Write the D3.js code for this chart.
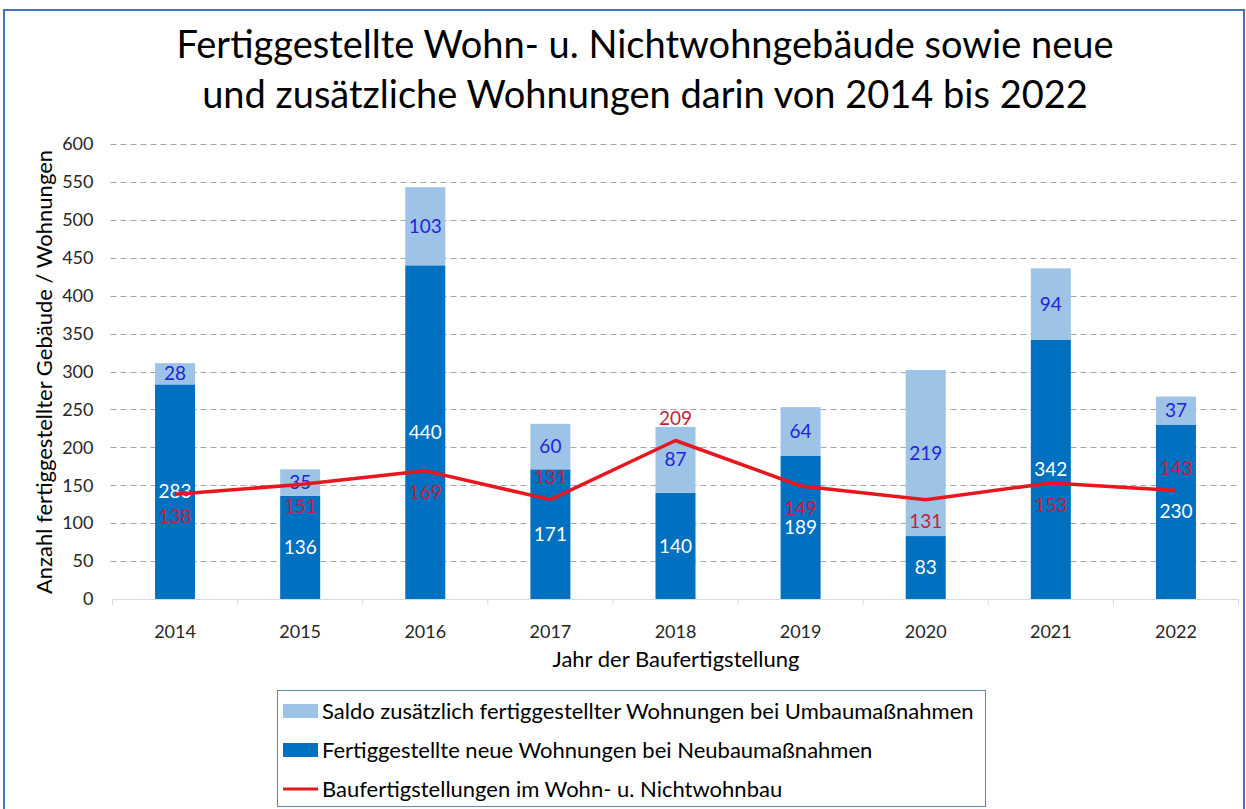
<!DOCTYPE html>
<html><head><meta charset="utf-8">
<script src="https://cdn.jsdelivr.net/npm/d3@7"></script>
<style>
html,body{margin:0;padding:0;background:#fff;}
svg{display:block;font-family:Lato,"Noto Sans",sans-serif;}
</style></head>
<body>
<svg id="chart" width="1246" height="809"></svg>
<script>
const years = ["2014","2015","2016","2017","2018","2019","2020","2021","2022"];
const neubau = [283,136,440,171,140,189,83,342,230];
const umbau = [28,35,103,60,87,64,219,94,37];
const gebaeude = [138,151,169,131,209,149,131,153,143];
const yTicks = [0,50,100,150,200,250,300,350,400,450,500,550,600];
const lineLabelSide = ["below","below","below","above","above","below","below","below","above"];

const titleLines = ["Fertiggestellte Wohn- u. Nichtwohngebäude sowie neue","und zusätzliche Wohnungen darin von 2014 bis 2022"];
const yTitle = "Anzahl fertiggestellter Gebäude / Wohnungen";
const xTitle = "Jahr der Baufertigstellung";
const legendItems = [
  {label:"Saldo zusätzlich fertiggestellter Wohnungen bei Umbaumaßnahmen", type:"rect", color:"#9DC3E6"},
  {label:"Fertiggestellte neue Wohnungen bei Neubaumaßnahmen", type:"rect", color:"#0070C0"},
  {label:"Baufertigstellungen im Wohn- u. Nichtwohnbau", type:"line", color:"#E8161E"}
];

const svg = d3.select("#chart");
// outer frame
svg.append("rect").attr("x",4).attr("y",10).attr("width",1240).attr("height",820)
  .attr("fill","#fff").attr("stroke","#4472C4").attr("stroke-width",2);

const L=112.5, R=1238.5, T=144, B=599;
const x = d3.scaleBand().domain(years).range([L,R]).paddingInner(0).paddingOuter(0);
const y = d3.scaleLinear().domain([0,600]).range([B,T]);
const barW = 40;

// title
svg.append("g").selectAll("text").data(titleLines).join("text")
  .attr("x",645).attr("y",(d,i)=>58+i*50).attr("text-anchor","middle")
  .attr("font-size",38).attr("fill","#000").text(d=>d);

// gridlines
const grid = svg.append("g");
grid.selectAll("line").data(yTicks.filter(d=>d>0)).join("line")
  .attr("x1",L-2).attr("x2",R).attr("y1",d=>Math.round(y(d))+0.5).attr("y2",d=>Math.round(y(d))+0.5)
  .attr("stroke","#A6A6A6").attr("stroke-width",1).attr("stroke-dasharray","6,4");

// y axis labels
const yAxis = svg.append("g").attr("transform",`translate(${L-19},0)`)
  .call(d3.axisLeft(y).tickValues(yTicks).tickSize(0).tickPadding(0));
yAxis.select(".domain").remove();
yAxis.selectAll("text").attr("font-size",18).attr("fill","#262626").attr("font-family","Lato,'Noto Sans',sans-serif");

// x axis
const xAxis = svg.append("g").attr("transform",`translate(0,${B})`)
  .call(d3.axisBottom(x).tickSize(0).tickPadding(26));
xAxis.select(".domain").attr("stroke","#D9D9D9");
xAxis.selectAll("text").attr("font-size",18).attr("fill","#262626").attr("font-family","Lato,'Noto Sans',sans-serif");
// category boundary ticks
svg.append("g").selectAll("line").data(d3.range(years.length+1)).join("line")
  .attr("x1",i=>L+i*x.step()).attr("x2",i=>L+i*x.step())
  .attr("y1",B).attr("y2",B+6).attr("stroke","#D9D9D9");

// bars
const bars = svg.append("g");
bars.selectAll("rect.neu").data(years).join("rect").attr("class","neu")
  .attr("x",d=>x(d)+x.bandwidth()/2-barW/2).attr("width",barW)
  .attr("y",(d,i)=>y(neubau[i])).attr("height",(d,i)=>y(0)-y(neubau[i]))
  .attr("fill","#0070C0");
bars.selectAll("rect.um").data(years).join("rect").attr("class","um")
  .attr("x",d=>x(d)+x.bandwidth()/2-barW/2).attr("width",barW)
  .attr("y",(d,i)=>y(neubau[i]+umbau[i])).attr("height",(d,i)=>y(neubau[i])-y(neubau[i]+umbau[i]))
  .attr("fill","#9DC3E6");

// bar labels
bars.selectAll("text.neu").data(years).join("text").attr("class","neu")
  .attr("x",d=>x(d)+x.bandwidth()/2).attr("y",(d,i)=>y(neubau[i]/2))
  .attr("dy","0.35em").attr("text-anchor","middle").attr("font-size",19).attr("fill","#fff")
  .text((d,i)=>neubau[i]);
bars.selectAll("text.um").data(years).join("text").attr("class","um")
  .attr("x",d=>x(d)+x.bandwidth()/2).attr("y",(d,i)=>y(neubau[i]+umbau[i]/2))
  .attr("dy","0.35em").attr("text-anchor","middle").attr("font-size",19).attr("fill","#2323D6")
  .text((d,i)=>umbau[i]);

// line
const line = d3.line().x((d,i)=>x(years[i])+x.bandwidth()/2).y(d=>y(d));
svg.append("path").datum(gebaeude).attr("d",line).attr("fill","none")
  .attr("stroke","#E8161E").attr("stroke-width",3.5).attr("stroke-linejoin","round");
svg.append("g").selectAll("text").data(gebaeude).join("text")
  .attr("x",(d,i)=>x(years[i])+x.bandwidth()/2)
  .attr("y",(d,i)=>y(d)+(lineLabelSide[i]==="below"?22:-22))
  .attr("dy","0.35em").attr("text-anchor","middle").attr("font-size",19).attr("fill","#C4203C")
  .text(d=>d);

// axis titles
svg.append("text").attr("transform","translate(52,372) rotate(-90)").attr("text-anchor","middle")
  .attr("font-size",22).attr("fill","#000").text(yTitle);
svg.append("text").attr("x",676).attr("y",667).attr("text-anchor","middle")
  .attr("font-size",22).attr("fill","#000").text(xTitle);

// legend
const lg = svg.append("g");
lg.append("rect").attr("x",277.5).attr("y",690.5).attr("width",708).attr("height",116)
  .attr("fill","#fff").attr("stroke","#5B8FA8").attr("stroke-width",1);
legendItems.forEach((it,i)=>{
  const cy = 711 + i*39;
  if(it.type==="rect"){
    lg.append("rect").attr("x",283).attr("y",cy-7).attr("width",35).attr("height",14).attr("fill",it.color);
  } else {
    lg.append("line").attr("x1",283).attr("x2",318).attr("y1",cy).attr("y2",cy).attr("stroke",it.color).attr("stroke-width",3);
  }
  lg.append("text").attr("x",322).attr("y",cy).attr("dy","0.35em").attr("font-size",22).attr("fill","#000").text(it.label);
});
</script>
</body></html>
